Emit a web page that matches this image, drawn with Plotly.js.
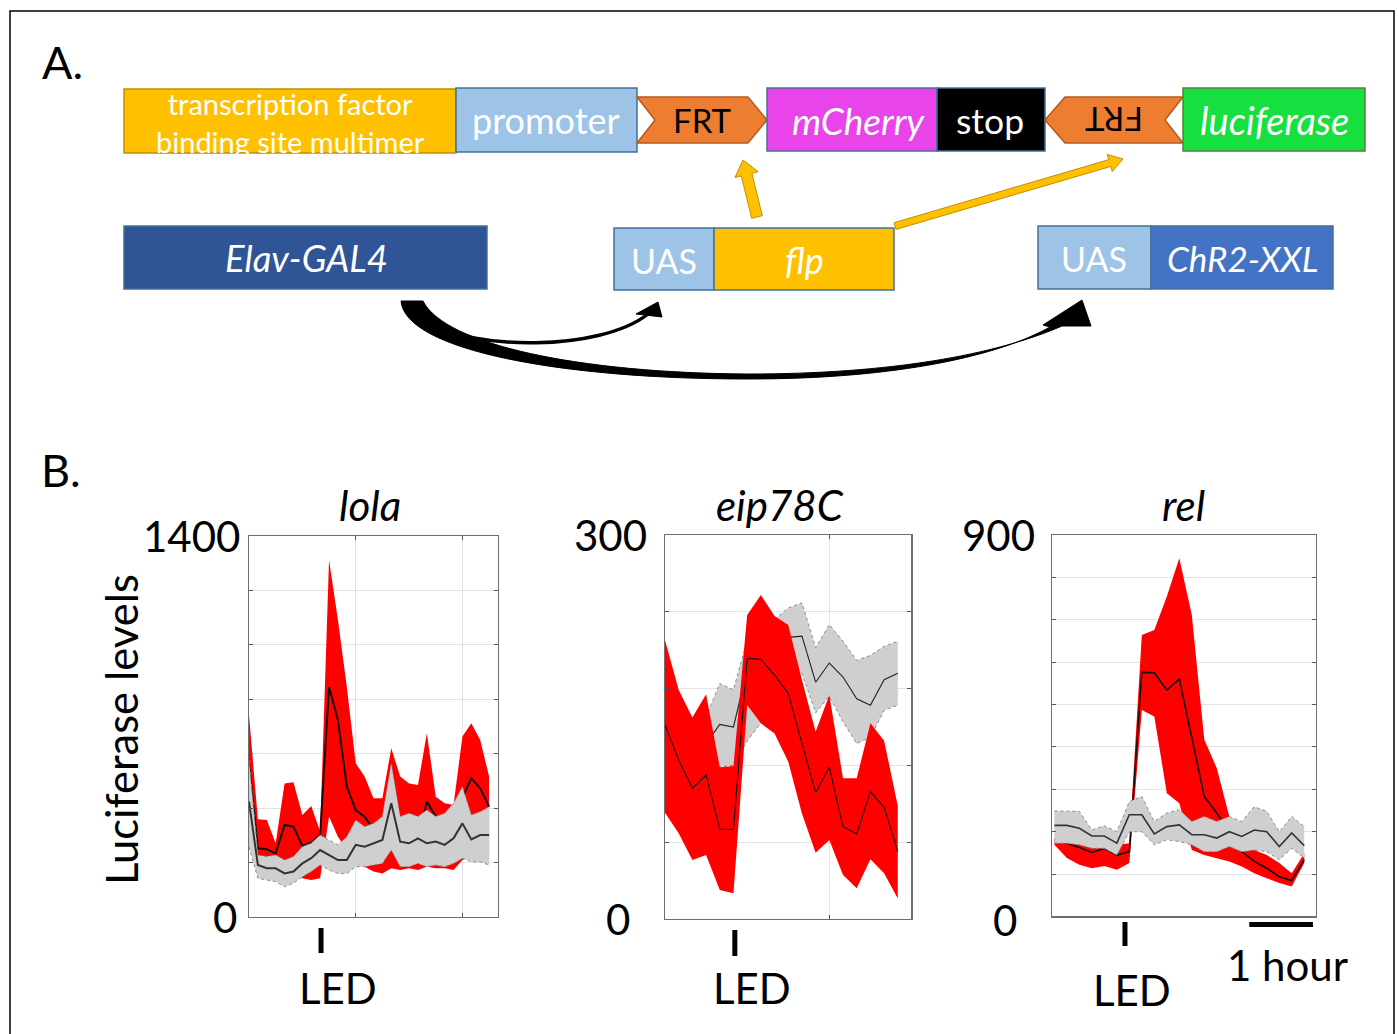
<!DOCTYPE html>
<html><head><meta charset="utf-8">
<script src="https://cdn.plot.ly/plotly-3.0.1.min.js"></script>
<style>html,body{margin:0;padding:0;background:#fff;}#chart{width:1398px;height:1034px;}</style>
</head><body><div id="chart"></div>
<script>
// ---------------- DATA ----------------
// time index (sample number) for each panel
const lolaTime = [0,1,2,3,4,5,6,7,8,9,10,11,12,13,14,15,16,17,18,19,20,21,22,23,24,25,26,27];
const eipTime  = [0,1,2,3,4,5,6,7,8,9,10,11,12,13,14,15,16,17];
const relTime  = [0,1,2,3,4,5,6,7,8,9,10,11,12,13,14,15,16,17,18,19,20];

// lola (Luciferase levels)
const lolaRedMean  = [565,252,249,234,338,332,261,273,301,846,724,479,393,369,320,320,320,295,295,277,424,369,356,369,442,510,473,405];
const lolaRedUpper = [742,359,356,271,491,495,375,408,314,1312,1091,846,565,516,436,436,620,516,491,485,675,442,418,412,663,712,650,516];
const lolaRedLower = [320,209,197,185,209,197,142,136,142,369,295,246,209,185,167,160,179,173,179,173,185,179,179,173,209,222,222,209];
const lolaGrayMean  = [424,191,179,179,160,167,197,216,246,228,209,209,265,258,271,283,418,277,271,289,271,277,265,289,344,285,301,301];
const lolaGrayUpper = [577,228,222,228,209,222,258,271,301,283,265,295,356,332,344,369,565,369,381,369,393,369,381,418,479,375,387,405];
const lolaGrayLower = [258,142,136,130,111,124,148,167,191,173,160,160,185,185,191,197,246,185,185,197,185,191,185,197,216,203,203,191];

// eip78C
const eipRedMean  = [151.6,124.2,102.1,112.5,70.3,70.0,203.6,202.9,190.6,176.3,137.2,98.7,118.5,72.1,66.4,99.5,87.2,52.6];
const eipRedUpper = [218.0,178.9,157.5,175.5,118.5,119.5,237.5,253.1,236.7,229.7,186.7,146.3,175.0,109.9,109.9,152.9,139.3,88.3];
const eipRedLower = [83.1,66.9,46.1,50.0,22.7,20.1,167.2,152.9,145.0,122.9,82.5,51.8,61.7,34.4,24.0,46.6,35.7,16.1];
const eipGrayMean  = [137,135,137,137,152,150,195,202,213,220,221,185,200,189,172,167,187,192];
const eipGrayUpper = [156,153,154,158,184,179,218,228,234,243,247,212,230,217,202,206,213,217];
const eipGrayLower = [116,116,118,116,119,120,139,153,169,187,192,161,174,154,137,142,163,167];

// rel
const relRedMean  = [181,173,163,151,161,145,153,576,575,534,560,424,283,244,200,153,130,114,94,85,134];
const relRedUpper = [185,181,177,173,174,169,173,664,676,755,845,711,417,350,236,177,157,145,126,102,149];
const relRedLower = [169,138,122,114,119,110,126,487,472,291,267,157,145,138,130,118,102,90,79,71,126];
const relGrayMean  = [215,215,208,190,190,173,240,240,195,212,216,193,193,185,200,189,204,200,165,197,167];
const relGrayUpper = [249,249,248,204,214,200,271,283,224,244,252,224,236,224,236,224,259,248,200,236,212];
const relGrayLower = [173,173,169,161,161,145,200,200,169,181,177,169,153,153,165,153,157,153,134,161,138];

// panel titles, y tick labels, LED times, scale bar
const panelTitles = ['lola', 'eip78C', 'rel'];
const lolaYLabels = [0, 1400];
const eipYLabels  = [0, 300];
const relYLabels  = [0, 900];
const ledTimes = [8.1, 5.1, 5.65];      // LED pulse sample position (lola, eip78C, rel)
const hourBar = [15.6, 20.7];           // "1 hour" scale bar on rel time axis
const yAxisTitle = 'Luciferase levels';

// ---------------- STYLE ----------------
const FONT = 'Lato, "Open Sans", sans-serif';
const RED = '#FF0000';
const GRAY = '#CFCFCF';
const GRAYEDGE = '#8A8A8A';

function bandTraces(x, upper, lower, mean, xa, ya, fill, dotted, meanColor, meanWidth) {
  const edge = dotted ? {color: GRAYEDGE, width: 1, dash: 'dot'} : {width: 0, color: fill};
  return [
    {x: x, y: upper, xaxis: xa, yaxis: ya, type: 'scatter', mode: 'lines', line: edge, hoverinfo: 'skip', showlegend: false},
    {x: x, y: lower, xaxis: xa, yaxis: ya, type: 'scatter', mode: 'lines', fill: 'tonexty', fillcolor: fill, line: edge, hoverinfo: 'skip', showlegend: false},
    {x: x, y: mean, xaxis: xa, yaxis: ya, type: 'scatter', mode: 'lines', line: {color: meanColor, width: meanWidth}, hoverinfo: 'skip', showlegend: false}
  ];
}

const traces = [].concat(
  // lola: red under gray
  bandTraces(lolaTime, lolaRedUpper, lolaRedLower, lolaRedMean, 'x', 'y', RED, false, '#111', 2),
  bandTraces(lolaTime, lolaGrayUpper, lolaGrayLower, lolaGrayMean, 'x', 'y', GRAY, true, '#333', 2),
  // eip78C: gray under red
  bandTraces(eipTime, eipGrayUpper, eipGrayLower, eipGrayMean, 'x2', 'y2', GRAY, true, '#222', 1.1),
  bandTraces(eipTime, eipRedUpper, eipRedLower, eipRedMean, 'x2', 'y2', RED, false, '#111', 1.1),
  // rel: red under gray
  bandTraces(relTime, relRedUpper, relRedLower, relRedMean, 'x3', 'y3', RED, false, '#111', 1.6),
  bandTraces(relTime, relGrayUpper, relGrayLower, relGrayMean, 'x3', 'y3', GRAY, true, '#333', 1.6),
  // pixel canvas for the schematic
  [{x: [null], y: [null], xaxis: 'x4', yaxis: 'y4', type: 'scatter', mode: 'markers', hoverinfo: 'skip', showlegend: false}]
);

function xAx(domain, range, gridVals, yAnchor) {
  return {domain: domain, range: range, anchor: yAnchor, showline: true, linecolor: '#6e6e6e', linewidth: 1.2,
    mirror: 'ticks', ticks: gridVals.length ? 'inside' : '', ticklen: 4, tickcolor: '#555',
    tickvals: gridVals, showticklabels: false, showgrid: gridVals.length > 0, gridcolor: '#e2e2e2', gridwidth: 1,
    zeroline: false, fixedrange: true};
}
function yAx(domain, range, gridVals, xAnchor) {
  return {domain: domain, range: range, anchor: xAnchor, showline: true, linecolor: '#6e6e6e', linewidth: 1.2,
    mirror: 'ticks', ticks: 'inside', ticklen: 4, tickcolor: '#555',
    tickvals: gridVals, showticklabels: false, showgrid: true, gridcolor: '#e2e2e2', gridwidth: 1,
    zeroline: false, fixedrange: true};
}

// ---------------- SCHEMATIC (panel A) ----------------
const shapes = [];
function rect(x0, y0, x1, y1, fill, line) {
  shapes.push({type: 'rect', xref: 'x4', yref: 'y4', x0: x0, x1: x1, y0: y0, y1: y1,
    fillcolor: fill, line: {color: line, width: 1.5}, layer: 'above'});
}
function path(p, fill, line, w) {
  shapes.push({type: 'path', xref: 'x4', yref: 'y4', path: p, fillcolor: fill,
    line: {color: line, width: w}, layer: 'above'});
}
// outer frame
shapes.push({type: 'rect', xref: 'x4', yref: 'y4', x0: 10, x1: 1394, y0: 11, y1: 1045,
  line: {color: '#000', width: 1.5}, fillcolor: 'rgba(0,0,0,0)', layer: 'above'});

rect(124, 89, 456, 153, '#FFC000', '#BF9000');
rect(456, 88, 637, 152, '#9DC3E6', '#41719C');
path('M 637 97 L 748 97 L 767 120 L 748 143 L 637 143 L 655 120 Z', '#ED7D31', '#B55A1E', 1.5);
rect(767, 88, 937, 151, '#E944EA', '#41719C');
rect(937, 88, 1045, 151, '#000000', '#41719C');
path('M 1183 97 L 1065 97 L 1045 120 L 1065 143 L 1183 143 L 1165 120 Z', '#ED7D31', '#B55A1E', 1.5);
rect(1183, 88, 1365, 151, '#16E040', '#548235');

rect(124, 226, 487, 289, '#2F5597', '#41719C');
rect(614, 228, 714, 290, '#9DC3E6', '#41719C');
rect(714, 228, 894, 290, '#FFC000', '#41719C');
rect(1038, 226, 1151, 289, '#9DC3E6', '#41719C');
rect(1151, 226, 1333, 289, '#4472C4', '#41719C');

// yellow flp arrows
path('M 751.7 218.3 L 741.3 175.9 L 735 177.5 L 743 160 L 758.2 171.7 L 751.9 173.3 L 762.3 215.7 Z', '#FFC000', '#BF9000', 1);
path('M 894 222.7 L 1109 159.6 L 1107 154.4 L 1123 159 L 1112.2 171.6 L 1111 166.4 L 896 229.4 Z', '#FFC000', '#BF9000', 1);

// black GAL4 arrows
path('M 401 301 C 405 350 560 379 748 379 C 900 379 1000 355 1050 327 L 1043 325 L 1082 300 L 1091 326 L 1062 326 C 995 355 890 374 748 374 C 580 373 445 345 423 301 Z', '#000', '#000', 1);
shapes.push({type: 'path', xref: 'x4', yref: 'y4', path: 'M 430 322 C 470 350 600 352 648 314',
  line: {color: '#000', width: 3.5}, layer: 'above'});
path('M 636 314 L 658 302 L 662 317 Z', '#000', '#000', 1);

// LED pulse marks and hour bar (x in data units, y in page pixels)
const ledY = [[928, 953], [930, 956], [922, 946]];
['x', 'x2', 'x3'].forEach(function (xr, i) {
  shapes.push({type: 'line', xref: xr, yref: 'y4', x0: ledTimes[i], x1: ledTimes[i], y0: ledY[i][0], y1: ledY[i][1],
    line: {color: '#000', width: 5}, layer: 'above'});
});
shapes.push({type: 'line', xref: 'x3', yref: 'y4', x0: hourBar[0], x1: hourBar[1], y0: 924.5, y1: 924.5,
  line: {color: '#000', width: 5}, layer: 'above'});

// ---------------- TEXT ----------------
const annotations = [];
function txt(x, y, text, size, color, opts) {
  const a = Object.assign({xref: 'x4', yref: 'y4', x: x, y: y, text: text, showarrow: false,
    xanchor: 'center', yanchor: 'middle', font: {family: FONT, size: size, color: color}}, opts || {});
  annotations.push(a);
}
txt(62, 62, 'A.', 45, '#000');
txt(61, 470, 'B.', 45, '#000');
txt(290, 122, 'transcription factor<br>binding site multimer', 29, '#fff');
txt(546, 120, 'promoter', 36, '#fff');
txt(702, 120, 'FRT', 33, '#000');
txt(858, 120, '<i>mCherry</i>', 37, '#fff');
txt(990, 120, 'stop', 35.5, '#fff');
txt(1114, 120, 'FRT', 33, '#000', {textangle: 180});
txt(1274, 120, '<i>luciferase</i>', 38, '#fff');
txt(306, 258, '<i>Elav-GAL4</i>', 36.5, '#fff');
txt(664, 260, 'UAS', 34, '#fff');
txt(804, 260, '<i>flp</i>', 36, '#fff');
txt(1094, 258, 'UAS', 34, '#fff');
txt(1242, 258, '<i>ChR2-XXL</i>', 35, '#fff');

// panel B texts
txt(121, 730, yAxisTitle, 43.5, '#000', {textangle: -90});
txt(370, 505, '<i>' + panelTitles[0] + '</i>', 42, '#000');
txt(780, 505, '<i>' + panelTitles[1] + '</i>', 42, '#000');
txt(1183, 505, '<i>' + panelTitles[2] + '</i>', 42, '#000');
txt(338, 988, 'LED', 42, '#000');
txt(752, 988, 'LED', 42, '#000');
txt(1132, 990, 'LED', 42, '#000');
txt(1287, 965, '1 hour', 42, '#000');

// y tick labels (x in page pixels, y in data units)
function ylab(xPix, yref, val, shift) {
  annotations.push({xref: 'x4', yref: yref, x: xPix, y: val, text: String(val), showarrow: false,
    xanchor: 'right', yanchor: 'middle', yshift: shift || 0, font: {family: FONT, size: 42, color: '#000'}});
}
ylab(242, 'y', lolaYLabels[1]);
ylab(239, 'y', lolaYLabels[0]);
ylab(649, 'y2', eipYLabels[1]);
ylab(632, 'y2', eipYLabels[0]);
ylab(1037, 'y3', relYLabels[1]);
ylab(1019, 'y3', relYLabels[0], -4);

const layout = {
  width: 1398, height: 1034,
  margin: {l: 0, r: 0, t: 0, b: 0},
  paper_bgcolor: '#fff', plot_bgcolor: 'rgba(0,0,0,0)',
  showlegend: false,
  font: {family: FONT},
  xaxis:  xAx([0.17811, 0.35622], [0, 28], [12, 24], 'y'),
  yaxis:  yAx([0.11315, 0.48162], [0, 1400], [200, 400, 600, 800, 1000, 1200], 'x'),
  xaxis2: xAx([0.47568, 0.65200], [0, 18], [12], 'y2'),
  yaxis2: yAx([0.11122, 0.48259], [0, 300], [60, 120, 180, 240], 'x2'),
  xaxis3: xAx([0.75286, 0.94099], [-0.15, 20.9], [], 'y3'),
  yaxis3: yAx([0.11364, 0.48259], [0, 900], [100, 200, 300, 400, 500, 600, 700, 800], 'x3'),
  xaxis4: {domain: [0, 1], range: [0, 1398], anchor: 'y4', visible: false, fixedrange: true},
  yaxis4: {domain: [0, 1], range: [1034, 0], anchor: 'x4', visible: false, fixedrange: true},
  shapes: shapes,
  annotations: annotations
};

Plotly.newPlot('chart', traces, layout, {staticPlot: true, displayModeBar: false});
</script>
</body></html>
